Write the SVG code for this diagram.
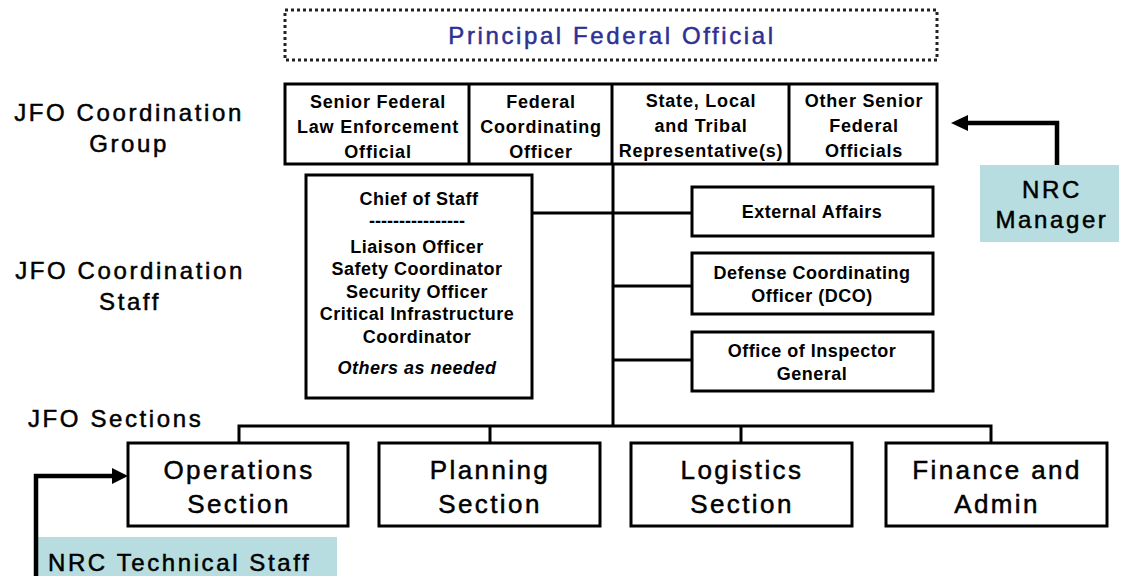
<svg xmlns="http://www.w3.org/2000/svg" width="1121" height="576" viewBox="0 0 1121 576">
<style>
.box{fill:#fff;stroke:#000;stroke-width:3}
.nrc{fill:#B7DDE0;stroke:none}
.conn{fill:none;stroke:#000;stroke-width:3}
.arr{fill:none;stroke:#000;stroke-width:4.5}
.lbl{font-family:"Liberation Sans",Arial,sans-serif;font-size:24px;letter-spacing:2.6px;fill:#000;stroke:#000;stroke-width:0.5px;text-anchor:middle}
.tb{font-family:"Liberation Sans",Arial,sans-serif;font-size:18px;font-weight:bold;letter-spacing:0.8px;fill:#000;text-anchor:middle}
.cs{font-family:"Liberation Sans",Arial,sans-serif;font-size:18px;font-weight:bold;letter-spacing:0.5px;fill:#000;text-anchor:middle}
.sec{font-family:"Liberation Sans",Arial,sans-serif;font-size:26px;letter-spacing:2.4px;fill:#000;stroke:#000;stroke-width:0.5px;text-anchor:middle}
</style>
<rect width="1121" height="576" fill="#fff"/>

<g id="connectors">
  <line class="conn" x1="613" y1="164" x2="613" y2="426"/>
  <line class="conn" x1="532" y1="213" x2="692" y2="213"/>
  <line class="conn" x1="613" y1="286" x2="692" y2="286"/>
  <line class="conn" x1="613" y1="360" x2="692" y2="360"/>
  <polyline class="conn" points="239,443 239,426 991,426 991,443"/>
  <line class="conn" x1="490" y1="426" x2="490" y2="443"/>
  <line class="conn" x1="741" y1="426" x2="741" y2="443"/>
</g>

<g id="pfo">
  <rect x="285" y="10" width="652" height="50" fill="#fff" stroke="#222" stroke-width="3" stroke-dasharray="3 3"/>
  <text x="612" y="44" class="lbl" style="fill:#2E3192;stroke:#2E3192">Principal Federal Official</text>
</g>

<g id="label-group">
  <text class="lbl" x="129" y="121">JFO Coordination</text>
  <text class="lbl" x="129" y="152">Group</text>
</g>
<g id="label-staff">
  <text class="lbl" x="130" y="279">JFO Coordination</text>
  <text class="lbl" x="130" y="310">Staff</text>
</g>
<g id="label-sections">
  <text class="lbl" x="28" y="427" style="text-anchor:start">JFO Sections</text>
</g>

<g id="coordination-group">
  <rect class="box" x="285" y="84" width="652" height="80"/>
  <line class="conn" x1="469" y1="84" x2="469" y2="164"/>
  <line class="conn" x1="612" y1="84" x2="612" y2="164"/>
  <line class="conn" x1="789" y1="84" x2="789" y2="164"/>
  <text class="tb" x="378" y="108">Senior Federal</text>
  <text class="tb" x="378" y="133">Law Enforcement</text>
  <text class="tb" x="378" y="158">Official</text>
  <text class="tb" x="541" y="108">Federal</text>
  <text class="tb" x="541" y="133">Coordinating</text>
  <text class="tb" x="541" y="158">Officer</text>
  <text class="tb" x="701" y="107">State, Local</text>
  <text class="tb" x="701" y="132">and Tribal</text>
  <text class="tb" x="701" y="157">Representative(s)</text>
  <text class="tb" x="864" y="107">Other Senior</text>
  <text class="tb" x="864" y="132">Federal</text>
  <text class="tb" x="864" y="157">Officials</text>
</g>

<g id="chief-of-staff">
  <rect class="box" x="306" y="175" width="226" height="223"/>
  <text class="cs" x="419" y="205">Chief of Staff</text>
  <text class="cs" x="417" y="227" style="letter-spacing:0px">----------------</text>
  <text class="cs" x="417" y="253">Liaison Officer</text>
  <text class="cs" x="417" y="275">Safety Coordinator</text>
  <text class="cs" x="417" y="298">Security Officer</text>
  <text class="cs" x="417" y="320">Critical Infrastructure</text>
  <text class="cs" x="417" y="343">Coordinator</text>
  <text class="cs" x="417" y="374" style="font-style:italic">Others as needed</text>
</g>

<g id="external-affairs">
  <rect class="box" x="692" y="187" width="241" height="49"/>
  <text class="cs" x="812" y="218">External Affairs</text>
</g>
<g id="dco">
  <rect class="box" x="692" y="253" width="241" height="61"/>
  <text class="cs" x="812" y="279">Defense Coordinating</text>
  <text class="cs" x="812" y="302">Officer (DCO)</text>
</g>
<g id="oig">
  <rect class="box" x="692" y="332" width="241" height="59"/>
  <text class="cs" x="812" y="357">Office of Inspector</text>
  <text class="cs" x="812" y="380">General</text>
</g>

<g id="operations">
  <rect class="box" x="128" y="443" width="220" height="83"/>
  <text class="sec" x="239" y="479">Operations</text>
  <text class="sec" x="239" y="513">Section</text>
</g>
<g id="planning">
  <rect class="box" x="379" y="443" width="221" height="83"/>
  <text class="sec" x="490" y="479">Planning</text>
  <text class="sec" x="490" y="513">Section</text>
</g>
<g id="logistics">
  <rect class="box" x="631" y="443" width="221" height="83"/>
  <text class="sec" x="742" y="479">Logistics</text>
  <text class="sec" x="742" y="513">Section</text>
</g>
<g id="finance">
  <rect class="box" x="886" y="443" width="221" height="83"/>
  <text class="sec" x="997" y="479">Finance and</text>
  <text class="sec" x="997" y="513">Admin</text>
</g>

<g id="nrc-manager">
  <rect class="nrc" x="980" y="165" width="139" height="77"/>
  <text class="lbl" x="1052" y="198">NRC</text>
  <text class="lbl" x="1052" y="228">Manager</text>
</g>
<g id="nrc-technical-staff">
  <rect class="nrc" x="35" y="537" width="302" height="39"/>
  <text class="lbl" x="48" y="571" style="text-anchor:start">NRC Technical Staff</text>
</g>

<g id="nrc-arrows">
  <polyline class="arr" points="1057,165 1057,123 966,123"/>
  <polygon points="951,123 968,115 968,131" fill="#000"/>
  <polyline class="arr" points="36,576 36,476 114,476"/>
  <polygon points="128,476 112,468 112,484" fill="#000"/>
</g>
</svg>
